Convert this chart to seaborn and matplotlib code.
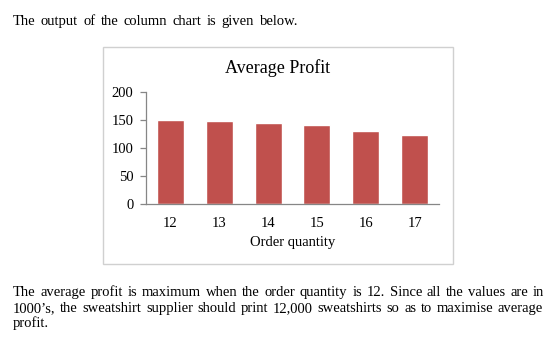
import matplotlib
matplotlib.use("Agg")
import matplotlib.pyplot as plt
import seaborn as sns
import pandas as pd
from matplotlib.patches import Rectangle

# ---- data ----
order_quantity = ["12", "13", "14", "15", "16", "17"]
average_profit = [150, 148, 145, 141, 131, 124]
y_ticks = [0, 50, 100, 150, 200]

chart_title = "Average Profit"
x_label = "Order quantity"
intro_text = "The output of the column chart is given below."
para_lines = [
    "The average profit is maximum when the order quantity is 12. Since all the values are in",
    "1000\u2019s, the sweatshirt supplier should print 12,000 sweatshirts so as to maximise average",
    "profit.",
]

SERIF = ["Liberation Serif", "DejaVu Serif"]
W, H = 560, 339

sns.set_theme(style="white")
plt.rcParams["font.family"] = SERIF

fig = plt.figure(figsize=(W / 100, H / 100), dpi=100)
fig.patch.set_facecolor("white")

# chart border box
fig.patches.append(Rectangle((103 / W, 1 - 264 / H), 350 / W, 217 / H,
                             transform=fig.transFigure, fill=False,
                             edgecolor="#d0d0d0", linewidth=1.0, zorder=0))

ax = fig.add_axes([146 / W, 1 - 204 / H, (439 - 146) / W, (204 - 92) / H])
df = pd.DataFrame({"q": order_quantity, "p": average_profit})
sns.barplot(data=df, x="q", y="p", color="#C0504D", width=0.55,
            saturation=1, ax=ax)
ax.set_ylim(0, 200)
ax.set_yticks(y_ticks)
ax.set_xlim(-0.5, len(order_quantity) - 0.5)
for s in ["top", "right"]:
    ax.spines[s].set_visible(False)
for s in ["left", "bottom"]:
    ax.spines[s].set_color("#868686")
    ax.spines[s].set_linewidth(0.9)
ax.tick_params(axis="y", which="major", left=True, length=4, width=0.9,
               color="#868686", pad=5, labelsize=10.5, labelcolor="black")
ax.tick_params(axis="x", length=0, pad=9, labelsize=10.5, labelcolor="black")
ax.set_ylabel("")
ax.set_xlabel(x_label, fontsize=10.5, labelpad=5, color="black")
ax.set_facecolor("white")

fig.text(278 / W, 1 - 68 / H, chart_title, ha="center", va="center",
         fontsize=13, color="black")

renderer = fig.canvas.get_renderer()


def place_line(line, y_px, x0, x1=None, size=10.5):
    words = line.split(" ")
    texts = [fig.text(0, 0, w, fontsize=size, ha="left", va="baseline",
                      color="black") for w in words]
    widths = [t.get_window_extent(renderer).width for t in texts]
    if x1 is None or len(words) == 1:
        gap = 4
    else:
        gap = (x1 - x0 - sum(widths)) / (len(words) - 1)
    x = x0
    base = y_px + 4
    for t, w in zip(texts, widths):
        t.set_position((x / W, 1 - base / H))
        x += w + gap


place_line(intro_text, 21, 13, 298)
place_line(para_lines[0], 292, 13, 544)
place_line(para_lines[1], 308, 13, 543)
place_line(para_lines[2], 323, 13, None)

fig.savefig("out.png", dpi=100, facecolor="white")
